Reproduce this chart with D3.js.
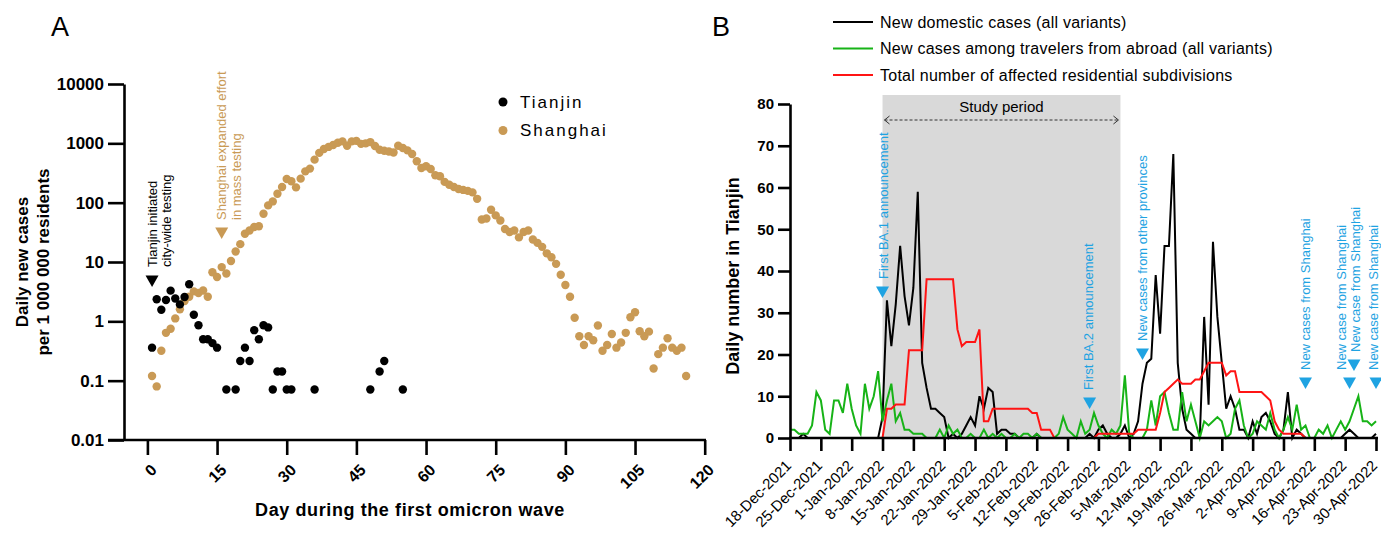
<!DOCTYPE html>
<html>
<head>
<meta charset="utf-8">
<script src="https://cdn.jsdelivr.net/npm/d3@7"></script>
<style>
  body { margin: 0; background: #fff; }
  svg { font-family: "Liberation Sans", Arial, sans-serif; }
</style>
</head>
<body>
<svg id="chart" width="1381" height="534"></svg>
<script>
// ---------------- panel A data ----------------
var tianjinDay  = [1,2,3,4,5,6,7,8,9,10,11,12,13,14,15,17,19,20,21,22,23,24,25,26,27,28,29,30,31,36,48,50,51,55];
var tianjinRate = [0.36,2.36,1.57,2.29,3.29,2.43,1.93,2.57,4.21,1.29,0.86,0.5,0.5,0.43,0.36,0.071,0.071,0.214,0.36,0.214,
                   0.71,0.5,0.86,0.79,0.071,0.143,0.143,0.071,0.071,0.071,0.071,0.143,0.214,0.071];

var shanghaiDay = d3.range(1, 117);
var shanghaiRate = [
  0.12,0.08,0.32,0.64,0.75,1.12,1.6,2.2,2.6,3.2,            // 1-10
  3.0,3.3,2.6,6.7,5.6,8.2,6.4,10.4,15,20,                   // 11-20
  30,34,39,40,65,90,105,141,184,251,                        // 21-30
  229,181,254,337,375,531,690,804,870,940,                  // 31-40
  1025,1080,912,1080,1100,980,1000,1050,900,780,            // 41-50
  750,730,700,912,835,760,660,500,385,410,                  // 51-60
  370,290,278,224,200,184,170,164,158,149,                  // 61-70
  116,52,54,76,61,50,36,32,34,26,                           // 71-80
  32,34,24,21,18,14,12,9.3,6.1,4.1,                         // 81-90
  2.6,1.15,0.56,0.4,0.56,0.48,0.85,0.32,0.4,0.61,           // 91-100
  0.36,0.44,0.64,1.17,1.42,0.68,0.56,0.67,0.16,0.28,        // 101-110
  0.36,0.52,0.36,0.32,0.36,0.12                             // 111-116
];

var dayTicks  = [0,15,30,45,60,75,90,105,120];
var rateTicks = [0.01,0.1,1,10,100,1000,10000];

// ---------------- panel B data ----------------
var startDate = "18-Dec-2021";
// one value per day from 18-Dec-2021 to 30-Apr-2022, rows are weeks
var domesticCases = [
  0,0,0,1,0,0,0,   0,0,0,0,0,0,0,   0,0,0,0,0,0,0,
  5,33,22,32,46,34,27,   36,59,18,12,7,7,6,   5,0,1,0,1,3,5,
  3,10,7,12,11,1,2,   2,1,1,0,0,0,0,   1,0,0,0,0,0,0,
  0,0,0,0,0,1,0,   2,3,1,0,0,1,3,   0,1,4,13,18,19,39,
  25,46,46,68,18,7,2,   1,0,0,29,8,47,29,   18,7,10,7,2,2,0,
  4,1,5,6,4,1,0,   2,11,0,2,1,0,0,   0,0,0,0,0,0,0,
  1,2,1,0,0,0,0,   1
];
var abroadCases = [
  2,2,1,1,1,3,11,   9,2,1,9,9,6,13,   7,3,1,13,7,10,16,
  4,9,13,4,6,2,2,   1,1,1,0,0,0,2,   0,3,1,2,0,0,1,
  0,0,2,0,1,0,1,   0,0,1,0,1,1,0,   1,0,0,0,0,1,5,
  2,1,0,4,1,2,6,   3,1,0,2,1,3,15,   1,0,0,0,2,9,3,
  10,11,6,2,2,11,4,   8,4,0,4,3,4,5,   4,0,1,7,9,3,0,
  1,4,3,2,6,2,0,   2,5,2,8,2,3,0,   0,2,1,3,0,2,4,
  2,4,7,10,4,4,3,   4
];
var subdivisions = [
  0,0,0,0,0,0,0,   0,0,0,0,0,0,0,   0,0,0,0,0,0,0,
  0,7,7,8,8,8,21,   21,21,21,38,38,38,38,   38,38,38,26,22,23,23,
  23,26,4,4,7,7,7,   7,7,7,7,7,7,6,   6,2,2,2,0,0,0,
  0,0,0,0,0,0,0,   1,1,1,1,1,1,1,   1,1,2,2,2,2,2,
  6,11,12,13,14,13,13,   13,14,14,16,18,18,18,   18,15,16,16,11,11,11,
  11,11,11,10,9,4,2,   1,1,1,1,1,0,0,   0,0,0,0,0,0,0,
  0,0,0,0,0,0,0,   0
];
var seriesNames = ["New domestic cases (all variants)",
                   "New cases among travelers from abroad (all variants)",
                   "Total number of affected residential subdivisions"];
var studyPeriod = ["8-Jan-2022", "3-Mar-2022"];
var dateTicks = ["18-Dec-2021","25-Dec-2021","1-Jan-2022","8-Jan-2022","15-Jan-2022","22-Jan-2022",
                 "29-Jan-2022","5-Feb-2022","12-Feb-2022","19-Feb-2022","26-Feb-2022","5-Mar-2022",
                 "12-Mar-2022","19-Mar-2022","26-Mar-2022","2-Apr-2022","9-Apr-2022","16-Apr-2022",
                 "23-Apr-2022","30-Apr-2022"];
var countTicks = [0,10,20,30,40,50,60,70,80];
var eventDates  = ["8-Jan-2022","24-Feb-2022","8-Mar-2022","14-Apr-2022","24-Apr-2022","25-Apr-2022","30-Apr-2022"];
var eventLabels = ["First BA.1 announcement","First BA.2 announcement","New cases from other provinces",
                   "New cases from Shanghai","New case from Shanghai","New case from Shanghai","New case from Shanghai"];

// colours
var tan = "#c99a55";
var blue = "#1fa3e2";
var lineColors = ["#000000", "#17b317", "#ff1414"];

var svg = d3.select("#chart");

function styleAxis(g, size, weight)
{
  g.selectAll("line").attr("stroke", "#000").attr("stroke-width", 2.6);
  g.selectAll("path").attr("stroke", "#000").attr("stroke-width", 2.6);
  g.selectAll("text").attr("fill", "#000").style("font-size", size + "px").style("font-weight", weight);
}

function downTriangle(g, x, y, color)
{
  g.append("path")
    .attr("d", "M" + (x - 6.5) + "," + (y - 5.5) + "L" + (x + 6.5) + "," + (y - 5.5) + "L" + x + "," + (y + 6) + "Z")
    .attr("fill", color);
}

function verticalText(g, x, y, txt, color, size)
{
  g.append("text")
    .attr("transform", "translate(" + x + "," + y + ") rotate(-90)")
    .attr("dy", "0.35em")
    .attr("fill", color)
    .style("font-size", size + "px")
    .text(txt);
}

////////////////////////////
// panel A

var xA = d3.scaleLinear().domain([0, 120]).range([147.4, 704.7]);
var yA = d3.scaleLog().domain([0.01, 10000]).range([440, 84]);
var gA = svg.append("g");

gA.append("text").attr("x", 51).attr("y", 36).style("font-size", "27px").text("A");

var yAxisA = gA.append("g").attr("transform", "translate(124,0)")
  .call(d3.axisLeft(yA).tickValues(rateTicks).tickFormat(function(d) { return String(d); })
        .tickSize(16).tickSizeOuter(0).tickPadding(4));
styleAxis(yAxisA, 17, "bold");

var xAxisA = gA.append("g").attr("transform", "translate(0,440)")
  .call(d3.axisBottom(xA).tickValues(dayTicks).tickSize(15).tickSizeOuter(0));
xAxisA.select(".domain").remove();
xAxisA.append("line").attr("x1", 108).attr("x2", 706);
styleAxis(xAxisA, 16, "bold");
xAxisA.selectAll(".tick text")
  .attr("x", 0).attr("y", 0).attr("dy", "0.35em")
  .attr("text-anchor", "end")
  .attr("transform", "translate(6,27) rotate(-45)");

gA.append("text")
  .attr("transform", "translate(22,262) rotate(-90)")
  .attr("text-anchor", "middle").attr("dy", "0.35em")
  .style("font-size", "17px").style("font-weight", "bold")
  .text("Daily new cases");
gA.append("text")
  .attr("transform", "translate(43,262) rotate(-90)")
  .attr("text-anchor", "middle").attr("dy", "0.35em")
  .style("font-size", "17px").style("font-weight", "bold")
  .text("per 1 000 000 residents");
gA.append("text")
  .attr("x", 410).attr("y", 516)
  .attr("text-anchor", "middle")
  .style("font-size", "18px").style("font-weight", "bold").style("letter-spacing", "0.6px")
  .text("Day during the first omicron wave");

// dots, Shanghai first so Tianjin stays on top
gA.append("g").selectAll("circle")
  .data(shanghaiRate)
  .enter().append("circle")
  .attr("cx", function(d, i) { return xA(shanghaiDay[i]); })
  .attr("cy", function(d) { return yA(d); })
  .attr("r", 4.2)
  .attr("fill", tan);

gA.append("g").selectAll("circle")
  .data(tianjinRate)
  .enter().append("circle")
  .attr("cx", function(d, i) { return xA(tianjinDay[i]); })
  .attr("cy", function(d) { return yA(d); })
  .attr("r", 4.2)
  .attr("fill", "#000");

// legend
[["Tianjin", "#000"], ["Shanghai", tan]].forEach(function(d, i) {
  gA.append("circle").attr("cx", 503).attr("cy", 102 + i * 28.5).attr("r", 4.5).attr("fill", d[1]);
  gA.append("text").attr("x", 520).attr("y", 102 + i * 28.5).attr("dy", "0.35em")
    .style("font-size", "17px").style("letter-spacing", "2px").text(d[0]);
});

// annotations
downTriangle(gA, xA(1), 281, "#000");
verticalText(gA, 152, 267, "Tianjin initiated", "#000", 13);
verticalText(gA, 166.5, 267, "city-wide testing", "#000", 13);
downTriangle(gA, xA(16), 233, tan);
verticalText(gA, 221, 220, "Shanghai expanded effort", tan, 13);
verticalText(gA, 236, 220, "in mass testing", tan, 13);

////////////////////////////
// panel B

var parseDay = d3.utcParse("%d-%b-%Y");
var t0 = parseDay(startDate);
var tickDates = dateTicks.map(parseDay);
var days = domesticCases.map(function(d, i) { return d3.utcDay.offset(t0, i); });

var xB = d3.scaleUtc().domain([tickDates[0], tickDates[tickDates.length - 1]]).range([790, 1376]);
var yB = d3.scaleLinear().domain([0, 80]).range([438, 104]);
var gB = svg.append("g");

gB.append("text").attr("x", 712).attr("y", 36).style("font-size", "27px").text("B");

// study period band
var s0 = xB(parseDay(studyPeriod[0])), s1 = xB(parseDay(studyPeriod[1]));
gB.append("rect").attr("x", s0).attr("y", 95).attr("width", s1 - s0).attr("height", 438 - 95).attr("fill", "#d9d9d9");
gB.append("text").attr("x", (s0 + s1) / 2).attr("y", 107).attr("dy", "0.35em")
  .attr("text-anchor", "middle").style("font-size", "15px").text("Study period");
gB.append("line").attr("x1", s0 + 2).attr("x2", s1 - 2).attr("y1", 120).attr("y2", 120)
  .attr("stroke", "#333").attr("stroke-width", 1).attr("stroke-dasharray", "3,2");
gB.append("path").attr("d", "M" + (s0 + 7) + ",116L" + (s0 + 2) + ",120L" + (s0 + 7) + ",124")
  .attr("fill", "none").attr("stroke", "#333").attr("stroke-width", 1);
gB.append("path").attr("d", "M" + (s1 - 7) + ",116L" + (s1 - 2) + ",120L" + (s1 - 7) + ",124")
  .attr("fill", "none").attr("stroke", "#333").attr("stroke-width", 1);

// series lines
var line = d3.line()
  .x(function(d, i) { return xB(days[i]); })
  .y(function(d) { return yB(d); });

[domesticCases, abroadCases, subdivisions].forEach(function(s, k) {
  gB.append("path").datum(s)
    .attr("d", line)
    .attr("fill", "none")
    .attr("stroke", lineColors[k])
    .attr("stroke-width", 2);
});

// axes
var yAxisB = gB.append("g").attr("transform", "translate(790,0)")
  .call(d3.axisLeft(yB).tickValues(countTicks).tickSize(12).tickSizeOuter(0).tickPadding(4));
styleAxis(yAxisB, 15, "bold");

var xAxisB = gB.append("g").attr("transform", "translate(0,438)")
  .call(d3.axisBottom(xB).tickValues(tickDates).tickFormat(function(d, i) { return dateTicks[i]; })
        .tickSize(13).tickSizeOuter(0));
xAxisB.select(".domain").remove();
xAxisB.append("line").attr("x1", 789).attr("x2", 1378);
styleAxis(xAxisB, 15, "normal");
xAxisB.selectAll(".tick text")
  .attr("x", 0).attr("y", 0).attr("dy", "0.35em")
  .attr("text-anchor", "end")
  .attr("transform", "translate(-2,25) rotate(-45)");

gB.append("text")
  .attr("transform", "translate(733,276) rotate(-90)")
  .attr("text-anchor", "middle").attr("dy", "0.35em")
  .style("font-size", "18px").style("font-weight", "bold")
  .text("Daily number in Tianjin");

// event markers (triangle height and text shift are layout only)
var eventMarkY = [292, 403, 354, 383, 383, 365, 383];
var eventTextDx = [1, -1, 0, 0, -8, 1, -3];
eventDates.forEach(function(d, i) {
  var x = xB(parseDay(d));
  downTriangle(gB, x, eventMarkY[i], blue);
  verticalText(gB, x + eventTextDx[i], eventMarkY[i] - 13, eventLabels[i], blue, 13);
});

// legend
seriesNames.forEach(function(name, i) {
  var y = 22 + i * 26.5;
  gB.append("line").attr("x1", 833).attr("x2", 873).attr("y1", y).attr("y2", y)
    .attr("stroke", lineColors[i]).attr("stroke-width", 2);
  gB.append("text").attr("x", 880).attr("y", y).attr("dy", "0.35em")
    .style("font-size", "16px").style("letter-spacing", "0.25px").text(name);
});
</script>
</body>
</html>
